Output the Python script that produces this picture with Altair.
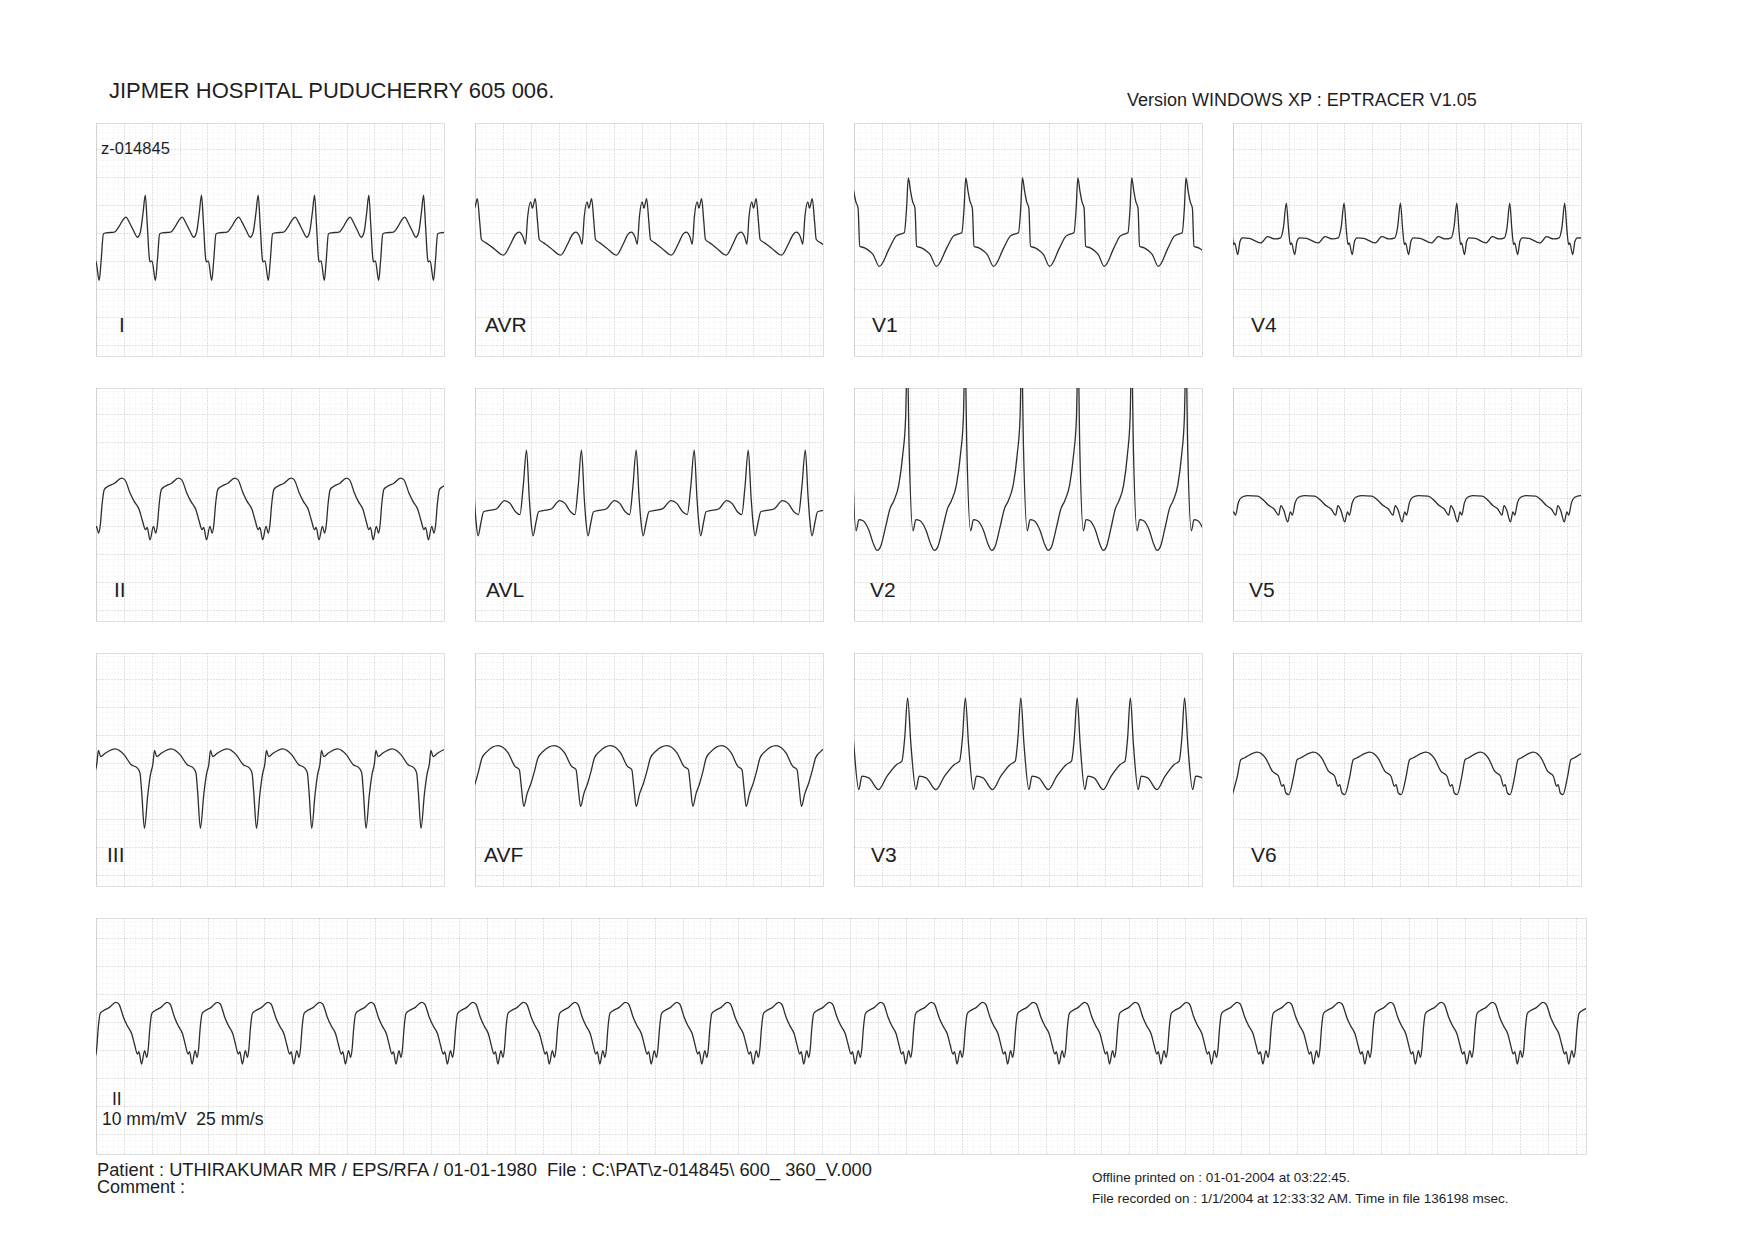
import altair as alt
import pandas as pd

# ---------------- text ----------------
TITLE = "JIPMER HOSPITAL PUDUCHERRY 605 006."
VERSION = "Version WINDOWS XP : EPTRACER V1.05"
RECORD_ID = "z-014845"
PATIENT = "Patient : UTHIRAKUMAR MR / EPS/RFA / 01-01-1980\u00a0 File : C:\\PAT\\z-014845\\ 600_ 360_V.000"
COMMENT = "Comment :"
PRINTED = "Offline printed on : 01-01-2004 at 03:22:45."
RECORDED = "File recorded on : 1/1/2004 at 12:33:32 AM. Time in file 136198 msec."
CALIB = "10 mm/mV\u00a0 25 mm/s"

# ---------------- one-cycle shapes (phase 0..1, mV) ----------------
I_phase = [0.00, 0.035, 0.073, 0.09, 0.12, 0.18, 0.215, 0.255, 0.30, 0.45, 0.52, 0.59, 0.655, 0.72, 0.79, 0.86, 0.91, 0.96]
I_mv = [0.67, 0.15, -0.46, -0.52, -0.50, -0.85, -0.50, -0.02, 0.0, 0.01, 0.09, 0.21, 0.28, 0.18, 0.04, -0.08, 0.0, 0.35]
I_beats = [-0.05, 0.354, 0.758, 1.165, 1.57, 1.96, 2.353, 2.75]

AVR_phase = [0.0, 0.04, 0.07, 0.15, 0.27, 0.45, 0.57, 0.66, 0.72, 0.79, 0.83, 0.87, 0.92, 0.95]
AVR_mv = [0.61, 0.2, -0.12, -0.18, -0.27, -0.40, -0.21, -0.03, 0.01, -0.08, -0.20, 0.3, 0.55, 0.44]
AVR_beats = [-0.39, 0.017, 0.433, 0.838, 1.233, 1.628, 2.02, 2.423, 2.83]

V1_phase = [0.0, 0.04, 0.075, 0.116, 0.145, 0.23, 0.32, 0.38, 0.49, 0.67, 0.785, 0.87, 0.93, 0.97]
V1_mv = [0.98, 0.74, 0.56, 0.44, -0.24, -0.27, -0.33, -0.39, -0.60, -0.27, -0.06, -0.02, 0.0, 0.44]
V1_beats = [-0.018, 0.39, 0.803, 1.21, 1.608, 1.995, 2.385, 2.78]

V4_phase = [0.0, 0.04, 0.07, 0.09, 0.145, 0.185, 0.23, 0.35, 0.55, 0.67, 0.8, 0.9, 0.95]
V4_mv = [0.53, 0.05, -0.21, -0.18, -0.39, -0.15, -0.09, -0.1, -0.18, -0.07, -0.11, -0.09, 0.1]
V4_beats = [-0.025, 0.383, 0.798, 1.203, 1.608, 1.988, 2.383, 2.78]

II_phase = [0.0, 0.06, 0.18, 0.30, 0.36, 0.45, 0.52, 0.61, 0.67, 0.72, 0.75, 0.80, 0.86, 0.90, 0.93, 0.96]
II_mv = [0.15, 0.20, 0.26, 0.35, 0.32, 0.085, -0.06, -0.21, -0.42, -0.57, -0.53, -0.75, -0.51, -0.63, -0.48, -0.12]
II_beats = [-0.35, 0.06, 0.47, 0.875, 1.278, 1.683, 2.068, 2.468, 2.875]

AVL_phase = [0.0, 0.05, 0.08, 0.12, 0.17, 0.22, 0.3, 0.45, 0.6, 0.7, 0.8, 0.88, 0.94]
AVL_mv = [0.85, 0.0, -0.4, -0.68, -0.45, -0.25, -0.23, -0.2, -0.05, -0.1, -0.25, -0.3, 0.2]
AVL_beats = [-0.025, 0.37, 0.765, 1.158, 1.575, 1.963, 2.373, 2.775]

V2_phase = [0.0, 0.03, 0.1, 0.147, 0.22, 0.32, 0.41, 0.47, 0.53, 0.62, 0.70, 0.76, 0.85, 0.92, 0.97]
V2_mv = [2.6, 0.95, -0.59, -0.39, -0.41, -0.57, -0.84, -0.94, -0.87, -0.51, -0.18, -0.06, 0.23, 0.77, 1.42]
V2_beats = [-0.025, 0.383, 0.798, 1.205, 1.61, 1.995, 2.385, 2.775]

V5_phase = [0.0, 0.047, 0.08, 0.13, 0.19, 0.29, 0.47, 0.58, 0.67, 0.76, 0.84, 0.88, 0.93]
V5_mv = [-0.43, -0.25, -0.31, -0.09, 0.01, 0.04, 0.03, -0.05, -0.14, -0.2, -0.31, -0.14, -0.22]
V5_beats = [-0.015, 0.393, 0.803, 1.215, 1.613, 1.993, 2.38, 2.775]

III_phase = [0.0, 0.06, 0.11, 0.15, 0.18, 0.22, 0.30, 0.48, 0.64, 0.76, 0.87, 0.92, 0.95]
III_mv = [-1.17, -0.57, -0.20, -0.03, 0.22, 0.11, 0.17, 0.25, 0.14, -0.03, -0.09, -0.18, -0.51]
III_beats = [-0.055, 0.348, 0.75, 1.153, 1.55, 1.94, 2.335, 2.73]

AVF_phase = [0.0, 0.06, 0.13, 0.19, 0.25, 0.34, 0.54, 0.72, 0.84, 0.92, 0.96]
AVF_mv = [-0.78, -0.55, -0.36, -0.15, 0.085, 0.2, 0.305, 0.175, -0.06, -0.12, -0.45]
AVF_beats = [-0.05, 0.35, 0.758, 1.158, 1.565, 1.948, 2.345, 2.75]

V3_phase = [0.0, 0.058, 0.145, 0.2, 0.32, 0.49, 0.64, 0.81, 0.9, 0.95]
V3_mv = [1.16, 0.32, -0.48, -0.24, -0.27, -0.48, -0.24, -0.03, 0.03, 0.45]
V3_beats = [-0.025, 0.385, 0.80, 1.198, 1.603, 1.985, 2.375, 2.775]

V6_phase = [0.0, 0.09, 0.15, 0.21, 0.44, 0.59, 0.71, 0.82, 0.88, 0.91, 0.95]
V6_mv = [-0.57, -0.24, 0.055, 0.085, 0.19, 0.085, -0.15, -0.24, -0.42, -0.39, -0.54]
V6_beats = [-0.005, 0.40, 0.803, 1.208, 1.61, 1.99, 2.37, 2.75]

# rhythm strip (lead II), beat fiducials in seconds
RHYTHM_beats = [-0.33, 0.03, 0.40, 0.76, 1.12, 1.49, 1.86, 2.22, 2.59, 2.95, 3.32, 3.68, 4.05,
                4.41, 4.78, 5.14, 5.51, 5.87, 6.24, 6.60, 6.97, 7.33, 7.70, 8.06, 8.43,
                8.79, 9.16, 9.52, 9.89, 10.25, 10.62, 10.98]

LEADS = {
    "I": (I_phase, I_mv, I_beats),
    "AVR": (AVR_phase, AVR_mv, AVR_beats),
    "V1": (V1_phase, V1_mv, V1_beats),
    "V4": (V4_phase, V4_mv, V4_beats),
    "II": (II_phase, II_mv, II_beats),
    "AVL": (AVL_phase, AVL_mv, AVL_beats),
    "V2": (V2_phase, V2_mv, V2_beats),
    "V5": (V5_phase, V5_mv, V5_beats),
    "III": (III_phase, III_mv, III_beats),
    "AVF": (AVF_phase, AVF_mv, AVF_beats),
    "V3": (V3_phase, V3_mv, V3_beats),
    "V6": (V6_phase, V6_mv, V6_beats),
}
ROWS = [["I", "AVR", "V1", "V4"], ["II", "AVL", "V2", "V5"], ["III", "AVF", "V3", "V6"]]

# ---------------- layout / style ----------------
W, H = 348, 233
T_PANEL = 2.5
Y_DOM = [-2.2, 1.96]
RW, RH = 1490, 236
T_RHYTHM = 10.67
RY_DOM = [-2.35, 1.85]
FONT = "Liberation Sans"
TRACE = "#2e2e2e"
LABEL_X = {"I": 23, "AVR": 10, "V1": 18, "V4": 18, "II": 18, "AVL": 11,
           "V2": 16, "V5": 16, "III": 11, "AVF": 9, "V3": 17, "V6": 18}
VSPACE = 10      # vconcat spacing
GAP = 10         # spacer height -> row gap = 2*VSPACE + GAP
MAJOR = "#b8b8b8"
MINOR = "#e4e4e4"


def build_trace(phase, mv, beats):
    t, v = [], []
    for k in range(len(beats) - 1):
        b0, b1 = beats[k], beats[k + 1]
        for ph, val in zip(phase, mv):
            t.append(b0 + ph * (b1 - b0))
            v.append(val)
    t.append(beats[-1])
    v.append(mv[0])
    return pd.DataFrame({"t": t, "mv": v})


def grid_axis(values, k):
    # k: number of minor steps per unit that make a major line
    test = f"abs(datum.value*{k} - round(datum.value*{k})) < 0.001"
    return alt.Axis(values=values, grid=True, labels=False, ticks=False, domain=False,
                    title=None, minExtent=0, maxExtent=0, gridDash=[1, 2],
                    gridColor={"condition": {"test": test, "value": MAJOR}, "value": MINOR},
                    gridWidth={"condition": {"test": test, "value": 0.85}, "value": 0.6})


def trace_layer(df, tmax, ydom):
    xv = [round(0.04 * i, 3) for i in range(int(round(tmax * 25)) + 1)]
    yv = [round(-2.4 + 0.1 * i, 2) for i in range(46)]
    return alt.Chart(df).mark_line(clip=True, color=TRACE, strokeWidth=1.3,
                                   interpolate="monotone").encode(
        x=alt.X("t:Q", scale=alt.Scale(domain=[0, tmax], nice=False, zero=False),
                axis=grid_axis(xv, 5)),
        y=alt.Y("mv:Q", scale=alt.Scale(domain=ydom, nice=False, zero=False),
                axis=grid_axis(yv, 2)),
    )


def text_layer(txt, x, y, size, align="left"):
    return alt.Chart(pd.DataFrame({"txt": [txt]})).mark_text(
        align=align, baseline="alphabetic", font=FONT, fontSize=size, color="#1e1e1e"
    ).encode(x=alt.value(x), y=alt.value(y), text="txt:N")


def panel(lead):
    phase, mv, beats = LEADS[lead]
    df = build_trace(phase, mv, beats)
    layers = [trace_layer(df, T_PANEL, Y_DOM), text_layer(lead, LABEL_X[lead], H - 24, 21)]
    if lead == "I":
        layers.append(text_layer(RECORD_ID, 5, 31, 16.5))
    return alt.layer(*layers).properties(width=W, height=H)


def spacer():
    return alt.Chart(pd.DataFrame({"a": [0]})).mark_rect(opacity=0).encode(
        x=alt.value(0), x2=alt.value(10), y=alt.value(0), y2=alt.value(GAP)
    ).properties(width=10, height=GAP, view=alt.ViewBackground(strokeOpacity=0))


header = alt.layer(
    text_layer(TITLE, 13, 88, 22),
    text_layer(VERSION, 1031, 96, 18),
).properties(width=RW, height=102, view=alt.ViewBackground(strokeOpacity=0))

rows = [alt.hconcat(*[panel(l) for l in r], spacing=29) for r in ROWS]

rdf = build_trace(II_phase, II_mv, RHYTHM_beats)
rhythm = alt.layer(
    trace_layer(rdf, T_RHYTHM, RY_DOM),
    text_layer("II", 16, 187, 17.5),
    text_layer(CALIB, 6, 207, 17.5),
    text_layer(PATIENT, 1, 258, 18.3),
    text_layer(COMMENT, 1, 275, 18),
    text_layer(PRINTED, 996, 264, 13.5),
    text_layer(RECORDED, 996, 285, 13.5),
).properties(width=RW, height=RH)

chart = alt.vconcat(header, rows[0], spacer(), rows[1], spacer(), rows[2], spacer(), rhythm,
                    spacing=VSPACE).properties(
    padding={"left": 95, "top": 10, "right": 10, "bottom": 10}
).configure_view(stroke="#4a4a4a", strokeWidth=1.2).configure(background="white")

chart.save("out.html", embed_options={"renderer": "svg", "actions": False})
